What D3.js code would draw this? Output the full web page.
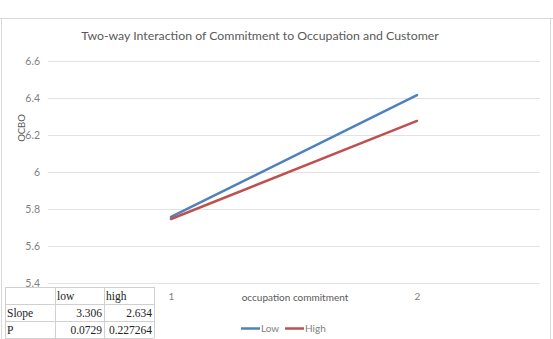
<!DOCTYPE html>
<html>
<head>
<meta charset="utf-8">
<script src="https://cdn.jsdelivr.net/npm/d3@7"></script>
<style>
  body { margin: 0; background: #fff; }
  svg { display: block; }
</style>
</head>
<body>
<svg width="553" height="339"></svg>
<script>
(function (d3) {
    'use strict';

    // data
    const categories = ['1', '2'];
    const lowValues = [5.757, 6.416];
    const highValues = [5.746, 6.276];
    const seriesNames = ['Low', 'High'];
    const yTicks = [5.4, 5.6, 5.8, 6, 6.2, 6.4, 6.6];
    const tableHeader = ['', 'low', 'high'];
    const tableRows = [
        ['Slope', '3.306', '2.634'],
        ['P', '0.0729', '0.227264']
    ];

    const svg = d3.select('svg');
    const width = +svg.attr('width');
    const height = +svg.attr('height');

    const colors = ['#4F81BD', '#C0504D'];
    const font = 'Lato, "Open Sans", sans-serif';

    // frame of the chart object
    svg.append('line')
        .attr('x1', 0).attr('x2', width)
        .attr('y1', 18.5).attr('y2', 18.5)
        .attr('stroke', '#d4d4d4');
    svg.append('rect')
        .attr('x', 1.5).attr('y', 18.5)
        .attr('width', 549).attr('height', 330)
        .attr('fill', '#fff')
        .attr('stroke', '#d9d9d9');

    const margin = { top: 61, left: 48, right: 13, bottom: 56 };

    const x = d3.scalePoint()
        .domain(categories)
        .range([margin.left, width - margin.right])
        .padding(0.5);

    const y = d3.scaleLinear()
        .domain([5.4, 6.6])
        .range([height - margin.bottom, margin.top]);

    // title
    svg.append('text')
        .attr('x', 260).attr('y', 40)
        .attr('text-anchor', 'middle')
        .attr('font-family', font)
        .attr('font-size', 12.3)
        .attr('fill', '#595959')
        .text('Two-way Interaction of Commitment to Occupation and Customer');

    // gridlines + y labels
    const yAxis = svg.append('g')
        .attr('transform', `translate(${margin.left},0)`)
        .call(d3.axisLeft(y).tickValues(yTicks)
            .tickSize(-(width - margin.left - margin.right))
            .tickPadding(8)
            .tickFormat(d3.format('')));
    yAxis.select('.domain').remove();
    yAxis.selectAll('line').attr('stroke', '#e3e3e3');
    yAxis.selectAll('text')
        .attr('font-family', font)
        .attr('font-size', 10.5)
        .attr('fill', '#7f7f7f');

    svg.append('text')
        .attr('transform', 'translate(24.5,128) rotate(-90)')
        .attr('text-anchor', 'middle')
        .attr('font-family', font)
        .attr('font-size', 9.5)
        .attr('fill', '#595959')
        .text('OCBO');

    // x labels
    const xAxis = svg.append('g')
        .attr('transform', `translate(0,${height - margin.bottom})`)
        .call(d3.axisBottom(x).tickSize(0).tickPadding(10));
    xAxis.select('.domain').remove();
    xAxis.selectAll('text')
        .attr('font-family', font)
        .attr('font-size', 10)
        .attr('fill', '#7f7f7f');

    svg.append('text')
        .attr('x', 295).attr('y', 301)
        .attr('text-anchor', 'middle')
        .attr('font-family', font)
        .attr('font-size', 10)
        .attr('fill', '#595959')
        .text('occupation commitment');

    // lines
    const line = d3.line()
        .x((d, i) => x(categories[i]))
        .y(d => y(d));

    [lowValues, highValues].forEach((vals, i) => {
        svg.append('path')
            .datum(vals)
            .attr('d', line)
            .attr('fill', 'none')
            .attr('stroke', colors[i])
            .attr('stroke-width', 2.5)
            .attr('stroke-linecap', 'round');
    });

    // legend
    const legend = svg.append('g').attr('transform', 'translate(241,332)');
    const legX = [0, 44];
    seriesNames.forEach((name, i) => {
        const g = legend.append('g').attr('transform', `translate(${legX[i]},0)`);
        g.append('line')
            .attr('x1', 0).attr('x2', 19)
            .attr('y1', -3.5).attr('y2', -3.5)
            .attr('stroke', colors[i])
            .attr('stroke-width', 2.5);
        g.append('text')
            .attr('x', 20).attr('y', 0)
            .attr('font-family', font)
            .attr('font-size', 10)
            .attr('fill', '#7f7f7f')
            .text(name);
    });

    // little stats table pasted over the bottom-left corner
    const colEdges = [5, 55, 104, 154];
    const rowEdges = [287, 304, 321, 338];
    const table = svg.append('g');
    table.append('rect')
        .attr('x', colEdges[0]).attr('y', rowEdges[0])
        .attr('width', colEdges[3] - colEdges[0])
        .attr('height', rowEdges[3] - rowEdges[0])
        .attr('fill', '#fff');
    colEdges.forEach(cx => table.append('line')
        .attr('x1', cx + 0.5).attr('x2', cx + 0.5)
        .attr('y1', rowEdges[0]).attr('y2', rowEdges[3])
        .attr('stroke', '#d0d0d0'));
    rowEdges.forEach(ry => table.append('line')
        .attr('x1', colEdges[0]).attr('x2', colEdges[3])
        .attr('y1', ry + 0.5).attr('y2', ry + 0.5)
        .attr('stroke', '#d0d0d0'));

    [tableHeader].concat(tableRows).forEach((row, r) => {
        row.forEach((cell, c) => {
            const numeric = r > 0 && c > 0;
            table.append('text')
                .attr('x', numeric ? colEdges[c + 1] - 2 : colEdges[c] + 2)
                .attr('y', rowEdges[r] + 12.5)
                .attr('text-anchor', numeric ? 'end' : 'start')
                .attr('font-family', '"Liberation Serif", serif')
                .attr('font-size', 11.5)
                .attr('fill', '#222')
                .text(cell);
        });
    });

}(d3));
</script>
</body>
</html>
